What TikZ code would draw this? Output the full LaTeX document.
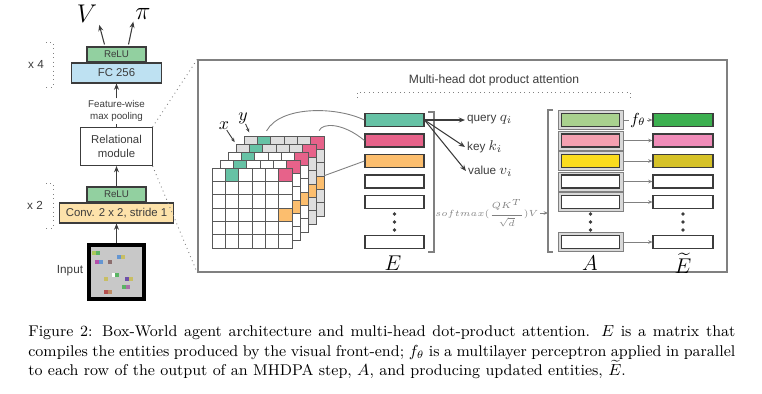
\documentclass[tikz,border=0pt]{standalone}
\usepackage{amsmath,amssymb}
\usepackage{fontspec}
\setsansfont{Liberation Sans}
\usepackage{tikz}
\usetikzlibrary{arrows.meta,positioning,calc}
\usepackage{xcolor}
\definecolor{ink}{RGB}{60,60,60}
\definecolor{relugreen}{RGB}{146,208,160}
\definecolor{fcblue}{RGB}{190,225,242}
\definecolor{convorange}{RGB}{253,226,170}
\definecolor{inputgray}{RGB}{200,200,200}
\definecolor{cellgray}{RGB}{222,222,222}
\definecolor{entgreen}{RGB}{102,194,165}
\definecolor{entpink}{RGB}{231,98,138}
\definecolor{entorange}{RGB}{252,190,110}
\definecolor{attgreen}{RGB}{169,209,142}
\definecolor{attpink}{RGB}{244,160,176}
\definecolor{attyellow}{RGB}{250,220,30}
\definecolor{newgreen}{RGB}{60,176,80}
\definecolor{newpink}{RGB}{240,140,185}
\definecolor{newolive}{RGB}{214,194,40}
\definecolor{pxlime}{RGB}{170,200,90}
\definecolor{pxgreen}{RGB}{90,180,100}
\definecolor{pxmagenta}{RGB}{180,80,170}
\definecolor{pxblue}{RGB}{100,150,210}
\definecolor{pxbrown}{RGB}{140,110,110}
\definecolor{pxkhaki}{RGB}{200,190,100}
\definecolor{pxpurple}{RGB}{110,80,170}
\definecolor{pxmauve}{RGB}{170,110,170}
\definecolor{pxred}{RGB}{180,80,80}
\definecolor{pxtan}{RGB}{190,140,100}

\begin{document}
\begin{tikzpicture}[
    x=0.5625pt, y=-0.5625pt,
    box/.style={draw=ink, line width=0.6pt, inner sep=0pt, align=center, text=ink,
                font=\sffamily\fontsize{6.4}{7.6}\selectfont},
    relubox/.style={box, fill=relugreen, minimum width=33.2pt, minimum height=8.4pt,
                font=\sffamily\fontsize{5.5}{6}\selectfont},
    txt/.style={font=\sffamily\fontsize{6.6}{7.6}\selectfont, text=ink, inner sep=1pt},
    arrow/.style={-{Stealth[length=3.5pt, width=2.8pt]}, draw=ink, line width=0.6pt},
    thinarrow/.style={-{Stealth[length=2.4pt, width=2pt]}, draw=gray, line width=0.45pt},
    brace/.style={draw=gray, dotted, line width=0.5pt},
    feed/.style={draw=gray, line width=0.5pt},
    cell/.style={draw=ink!85, line width=0.4pt, minimum size=7.5pt, inner sep=0pt},
    ent/.style={draw=ink, line width=0.6pt, minimum width=33.2pt, minimum height=7.3pt, inner sep=0pt},
    attout/.style={draw=gray, fill=gray!30, line width=0.5pt, minimum width=36.6pt,
                minimum height=10.7pt, inner sep=0pt},
]
\useasboundingbox (0,0) rectangle (762,393);

% Agent column
\node[box, fill=fcblue, minimum width=50.6pt, minimum height=11.25pt] (fc) at (116.5,73) {FC 256};
\node[relubox, above=0pt of fc] (relu4) {ReLU};
\node[txt, align=center, font=\sffamily\fontsize{5.5}{6.6}\selectfont] (pool) at (116.5,111) {Feature-wise\\max pooling};
\node[box, minimum width=40pt, minimum height=21.4pt] (rel) at (116.5,146.5) {Relational\\module};
\node[box, fill=convorange, minimum width=64.1pt, minimum height=11.25pt] (conv) at (116.5,213) {Conv. 2 x 2, stride 1};
\node[relubox, above=0pt of conv] (relu2) {ReLU};
\node[draw=black, line width=2.25pt, fill=inputgray, minimum size=30.4pt, inner sep=0pt] (input) at (116.5,272) {};
\node[txt] (inlab) at (70,271) {Input};

% pixels of the input frame
\foreach \px/\py/\pc in {92/251/pxlime, 96/251/pxgreen, 95/260/pxmagenta, 99/260/pxblue,
    108/260/pxbrown, 117/255/pxblue, 121/255/pxkhaki, 112/273/white, 115/273/pxgreen,
    104/277/pxkhaki, 125/277/pxpurple, 129/277/pxkhaki, 122/285/pxgreen, 126/285/pxmauve,
    104/290/pxred, 108/290/pxtan}
  \fill[\pc] (\px,\py) rectangle ++(4,4);

% repeat brackets
\draw[brace] (46,42) -- (53,42) -- (53,87) -- (46,87);
\node[txt] (x4) at (36,64) {x 4};
\draw[brace] (46,183) -- (53,183) -- (53,228) -- (46,228);
\node[txt] (x2) at (35,205) {x 2};

% outputs
\node[font=\Large, inner sep=1pt] (V) at (87,14) {$V$};
\node[font=\Large, inner sep=1pt] (pi) at (143,14) {$\pi$};
\draw[arrow] ($(relu4.north)+(-12,-2)$) -- (V.south east);
\draw[arrow] ($(relu4.north)+(12,-2)$) -- (pi.south west);

\draw[arrow] (input) -- (conv);
\draw[arrow] (relu2) -- (rel);
\draw[draw=ink, line width=0.6pt] (rel) -- (pool);
\draw[arrow] (pool) -- (fc);

% Attention panel
\node[draw=gray, line width=0.8pt, minimum width=297.6pt, minimum height=119.25pt, inner sep=0pt] (panel) at (462.5,166) {};
\draw[brace] (rel.north east) -- (panel.north west);
\draw[brace] (rel.south east) -- (panel.south west);

\node[txt, font=\sffamily\fontsize{6.8}{8}\selectfont] (mhdpa) at (494,80) {Multi-head dot product attention};
\draw[brace] (357,98) -- (357,92) -- (630,92) -- (630,100);

% feature map stack
\foreach \k in {4,3,2,1,0}{
  \ifnum\k>2 \def\base{cellgray}\else\def\base{white}\fi
  \foreach \r in {0,...,5}{
    \foreach \c in {0,...,5}{
      \def\col{\base}
      \ifnum\r=0 \ifnum\c=1 \def\col{entgreen}\fi \ifnum\c=5 \def\col{entpink}\fi\fi
      \ifnum\r=3 \ifnum\c=5 \def\col{entorange}\fi\fi
      \node[cell, fill=\col] (c\k-\r-\c) at ({218.67+8*\k+13.33*\c},{174.67-8*\k+13.33*\r}) {};
    }
  }
}
\node[inner sep=0pt] (xlab) at (224,126) {$x$};
\node[inner sep=0pt] (ylab) at (243,118) {$y$};
\draw[-{Stealth[length=2.4pt, width=2pt]}, draw=ink, line width=0.5pt, shorten >=1pt] (xlab) -- (c3-0-0.north west);
\draw[-{Stealth[length=2.4pt, width=2pt]}, draw=ink, line width=0.5pt, shorten >=2pt] (ylab) -- (c4-0-0.north);

% entity rows, attention output, updated entities
\foreach \i/\y/\ce/\ca/\ct in {1/120/entgreen/attgreen/newgreen, 2/140.5/entpink/attpink/newpink,
    3/161/entorange/attyellow/newolive, 4/181.5/white/white/white, 5/202/white/white/white,
    6/242/white/white/white}{
  \node[ent, fill=\ce] (e\i) at (394.5,\y) {};
  \node[attout] (a\i) at (590.5,\y) {};
  \node[ent, fill=\ca, minimum width=32.6pt] (ai\i) at (a\i) {};
  \node[ent, fill=\ct, minimum width=33.75pt] (t\i) at (683,\y) {};
}
% the rows left out
\foreach \x in {394.5,590.5,683}
  \foreach \y in {214,222,230}
    \fill[ink] (\x,\y) circle (1.1pt);

\node[font=\large] (elab) at (393,263) {$E$};
\node[font=\large] (alab) at (590,263) {$A$};
\node[font=\large] (tlab) at (683,263) {$\widetilde{E}$};

\draw[feed, shorten <=3pt] (c4-0-1.north) .. controls (280,106) and (335,106) .. (e1.west);
\draw[feed, shorten <=3pt] (c4-0-5.north) .. controls (322,123) and (342,122) .. (e2.west);
\draw[feed] (c4-3-5.north east) -- (e3.west);

% brackets
\draw[draw=gray, line width=0.6pt] (428,112) -- (434,112) -- (434,252) -- (428,252);
\draw[draw=gray, line width=0.6pt] (553,110) -- (548,110) -- (548,252) -- (553,252);
\coordinate (ebr) at (434,213);
\coordinate (abr) at (548,213);

% query, key, value
\node[txt, anchor=west] (query) at (465,120) {query {\fontsize{8.5}{9}\selectfont$q_i$}};
\node[txt, anchor=west] (key) at (465,147) {key {\fontsize{8.5}{9}\selectfont$k_i$}};
\node[txt, anchor=west] (value) at (466,171) {value {\fontsize{8.5}{9}\selectfont$v_i$}};
\draw[arrow] (e1.east) -- (query.west);
\draw[arrow] (e1.east) -- (key.west);
\draw[arrow] (e1.east) -- (value.west);

\node[text=gray, inner sep=0.5pt, font=\fontsize{5.2}{6}\selectfont] (smax) at (487,213) {$softmax(\dfrac{QK^T}{\sqrt{d}})V$};
\draw[feed] (ebr) -- (smax);
\draw[thinarrow] (smax) -- (abr);

% f_theta on every row
\draw[thinarrow] (a1.east) -- node[fill=white, inner sep=0.6pt, font=\small] (fth) {$f_\theta$} (t1.west);
\foreach \i in {2,...,6}
  \draw[thinarrow] (a\i.east) -- (t\i.west);

% Caption
\node[anchor=west, inner sep=0pt, text width=397.7pt, align=justify,
      font=\fontsize{8.75}{11}\selectfont] (cap) at (28,352.5)
  {Figure 2: Box-World agent architecture and multi-head dot-product attention. $E$ is a matrix that\linebreak
   compiles the entities produced by the visual front-end; $f_\theta$ is a multilayer perceptron applied in parallel\linebreak
   to each row of the output of an MHDPA step, $A$, and producing updated entities, $\widetilde{E}$.};

\end{tikzpicture}
\end{document}
